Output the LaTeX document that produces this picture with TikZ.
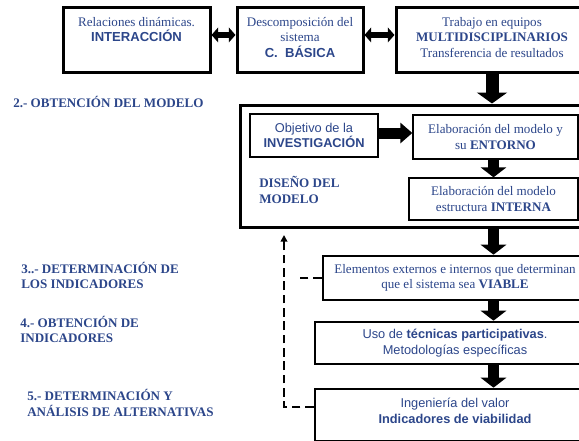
\documentclass[tikz,border=0pt]{standalone}
\usepackage{fontspec}
\setmainfont{Liberation Serif}
\setsansfont{Liberation Sans}
\usetikzlibrary{arrows.meta}

\definecolor{txtblue}{RGB}{44,70,138}

\begin{document}
\begin{tikzpicture}[
  x=0.75pt, y=-0.75pt,
  every node/.style={text=txtblue, font=\fontsize{9.8}{11.6}\selectfont},
  topbox/.style={draw, line width=2.25pt, minimum height=48.75pt, inner sep=0pt},
  modelbox/.style={draw, line width=2.25pt, minimum width=261pt, minimum height=91.5pt, inner sep=0pt},
  inbox/.style={draw, line width=1pt, align=center, inner sep=0pt},
  stepbox/.style={draw, line width=2pt, align=center, inner sep=0pt},
  toptxt/.style={align=center, anchor=north, inner sep=0pt, yshift=-8.5pt},
  sanstxt/.style={font=\sffamily\fontsize{9.6}{11.6}\selectfont},
  phase/.style={align=left, anchor=west, inner sep=0pt, font=\fontsize{9.8}{11.6}\selectfont\bfseries},
  bigarr/.style={line width=9.75pt, -{Triangle[width=22.5pt, length=8.25pt]}},
  downarr/.style={line width=8pt, -{Triangle[width=19pt, length=7.5pt]}},
  sidearr/.style={line width=8.25pt, -{Triangle[width=15pt, length=9pt]}},
  dblarr/.style={line width=4.5pt, {Triangle[width=11pt, length=5pt]}-{Triangle[width=11pt, length=5pt]}},
  fb/.style={line width=1.7pt, dash pattern=on 6.5pt off 3.5pt}
]
\useasboundingbox (0,0) rectangle (579,440);
\clip (0,0) rectangle (579,440);

% fila superior
\node[topbox, minimum width=110.25pt, label={[toptxt]north:Relaciones dinámicas.\\\textsf{\bfseries INTERACCIÓN}}] (interac) at (136.5,39.5) {};
\node[topbox, minimum width=94.5pt, label={[toptxt]north:Descomposición del\\sistema\\\textsf{\bfseries C.~~BÁSICA}}] (basica) at (300,39.5) {};
\node[topbox, minimum width=144pt, label={[toptxt]north:Trabajo en equipos\\\textbf{MULTIDISCIPLINARIOS}\\Transferencia de resultados}] (multi) at (492,39.5) {};

% diseno del modelo
\node[modelbox] (model) at (414,166) {};
\node[inbox, sanstxt, minimum width=96pt, minimum height=32.25pt] (objetivo) at (314,135.5) {Objetivo de la\\\textbf{INVESTIGACIÓN}};
\node[inbox, minimum width=123.75pt, minimum height=33pt] (entorno) at (495.5,137) {Elaboración del modelo y\\su \textbf{ENTORNO}};
\node[inbox, minimum width=126.75pt, minimum height=31.5pt] (interna) at (493.5,199) {Elaboración del modelo\\estructura \textbf{INTERNA}};
\node[phase] (diseno) at (259,190) {DISEÑO DEL\\MODELO};

% indicadores
\node[stepbox, minimum width=198pt, minimum height=33pt] (viable) at (455,278) {Elementos externos e internos que determinan\\que el sistema sea \textbf{VIABLE}};
\node[stepbox, sanstxt, minimum width=210pt, minimum height=31.5pt] (tecnicas) at (455,343) {Uso de \textbf{técnicas participativas}.\\Metodologías específicas};
\node[stepbox, minimum width=210pt, minimum height=39pt, label={[toptxt, sanstxt, yshift=0.75pt]north:Ingeniería del valor\\\textbf{Indicadores de viabilidad}}] (ingenieria) at (455,415) {};

% fases
\node[phase] (fase2) at (13,102) {2.- OBTENCIÓN DEL MODELO};
\node[phase] (fase3) at (21,275.5) {3..- DETERMINACIÓN DE\\LOS INDICADORES};
\node[phase] (fase4) at (20,329.5) {4.- OBTENCIÓN DE\\INDICADORES};
\node[phase] (fase5) at (27,403) {5.- DETERMINACIÓN Y\\ANÁLISIS DE ALTERNATIVAS};

% flechas
\draw[dblarr] ([yshift=3.4pt]interac.east) -- ([yshift=3.4pt]basica.west);
\draw[dblarr] ([yshift=3.4pt]basica.east) -- ([yshift=3.4pt]multi.west);
\draw[bigarr] (multi.south) -- (multi.south |- model.north);
\draw[sidearr] (objetivo.east |- 0,133) -- (entorno.west |- 0,133);
\draw[downarr] (entorno.south -| interna) -- (interna.north);
\draw[downarr] (interna.south |- model.south) -- (interna.south |- viable.north);
\draw[downarr] (viable.south -| interna) -- (tecnicas.north -| interna);
\draw[downarr] (tecnicas.south -| interna) -- (ingenieria.north -| interna);

% retroalimentacion
\coordinate (fbtop) at (284,235);
\coordinate (fbbot) at (284,407);
\coordinate (fbmid) at (297,278);
\draw[fb, -{Triangle[width=5pt, length=5pt]}] (ingenieria.west |- fbbot) -- (fbbot) -- (fbtop);
\draw[fb] (viable.west) -- (fbmid);
\end{tikzpicture}
\end{document}
